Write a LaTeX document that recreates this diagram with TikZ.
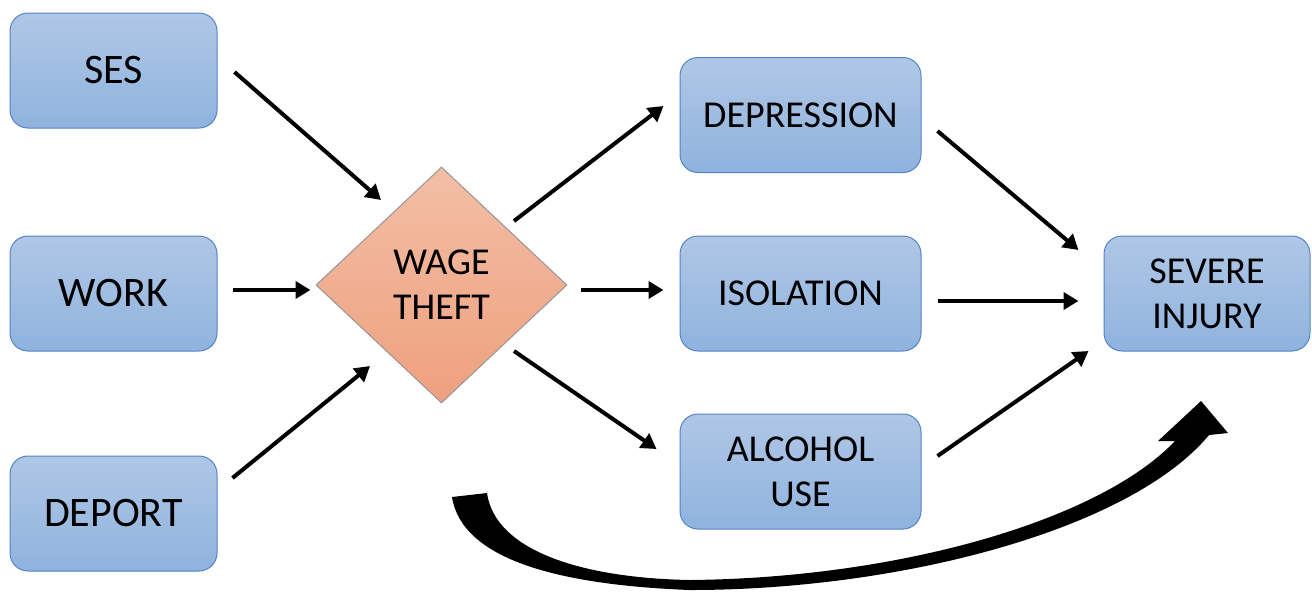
\documentclass[tikz,border=0pt]{standalone}
\usepackage{fontspec}
\setmainfont{Carlito}
\usetikzlibrary{shapes.geometric,arrows.meta}
\definecolor{boxtop}{RGB}{176,199,230}
\definecolor{boxbot}{RGB}{143,179,222}
\definecolor{boxline}{RGB}{84,130,200}
\definecolor{diamtop}{RGB}{243,190,166}
\definecolor{diambot}{RGB}{238,160,126}
\definecolor{diamline}{RGB}{150,150,150}
\tikzset{
  box/.style={rectangle,rounded corners=9pt,draw=boxline,line width=0.5pt,top color=boxtop,bottom color=boxbot,minimum height=57.5pt,align=center,font=\fontsize{19}{22.5}\selectfont},
  srcbox/.style={box,minimum width=103.5pt,font=\fontsize{21}{25}\selectfont},
  diam/.style={diamond,draw=diamline,line width=0.5pt,top color=diamtop,bottom color=diambot,inner sep=0pt,minimum width=125.5pt,minimum height=118pt,align=center,font=\fontsize{19}{22.5}\selectfont},
  conn/.style={line width=2pt,-{Triangle[length=7.5pt,width=8.5pt]}}
}
\begin{document}
\begin{tikzpicture}[x=0.5pt,y=-0.5pt]
\useasboundingbox (0,0) rectangle (1312,591);
\node[srcbox] (ses) at (113.5,70.5) {SES};
\node[srcbox] (work) at (113.5,293.5) {WORK};
\node[srcbox] (deport) at (113.5,513.5) {DEPORT};
\node[diam] (theft) at (441.5,285) {WAGE\\THEFT};
\node[box,minimum width=120.5pt] (depression) at (800.5,115) {DEPRESSION};
\node[box,minimum width=120.5pt] (isolation) at (800.5,293.5) {ISOLATION};
\node[box,minimum width=120.5pt] (alcohol) at (800.5,471.5) {ALCOHOL\\USE};
\node[box,minimum width=103pt] (injury) at (1207,293.5) {SEVERE\\INJURY};

\draw[conn] ([shift={(17,1.5)}]ses.east) -- ([shift={(-60.5,-85)}]theft.center);
\draw[conn] ([shift={(15,-3.5)}]work.east) -- ([shift={(-5,5)}]theft.west);
\draw[conn] ([shift={(15,-35.5)}]deport.east) -- ([shift={(-71.5,81)}]theft.center);
\draw[conn] ([shift={(72.5,-64)}]theft.center) -- ([shift={(-16,-9)}]depression.west);
\draw[conn] ([shift={(13,5)}]theft.east) -- ([shift={(-16,-3.5)}]isolation.west);
\draw[conn] ([shift={(72.5,66)}]theft.center) -- ([shift={(-23,-22.5)}]alcohol.west);
\draw[conn] ([shift={(16,16)}]depression.east) -- ([shift={(-25,-43.5)}]injury.west);
\draw[conn] ([shift={(16,7.5)}]isolation.east) -- ([shift={(-25,7.5)}]injury.west);
\draw[conn] ([shift={(16,-15.5)}]alcohol.east) -- ([shift={(-15,57.5)}]injury.west);

% big curved arrow
\fill[black] (452,497) .. controls (462,560) and (560,585) .. (690,590)
  .. controls (900,590) and (1130,530) .. (1209,435) -- (1228,433) -- (1201,401) -- (1158,441) -- (1175,441)
  .. controls (1100,520) and (900,578) .. (690,580)
  .. controls (580,578) and (495,550) .. (487,493) -- cycle;
\end{tikzpicture}
\end{document}
